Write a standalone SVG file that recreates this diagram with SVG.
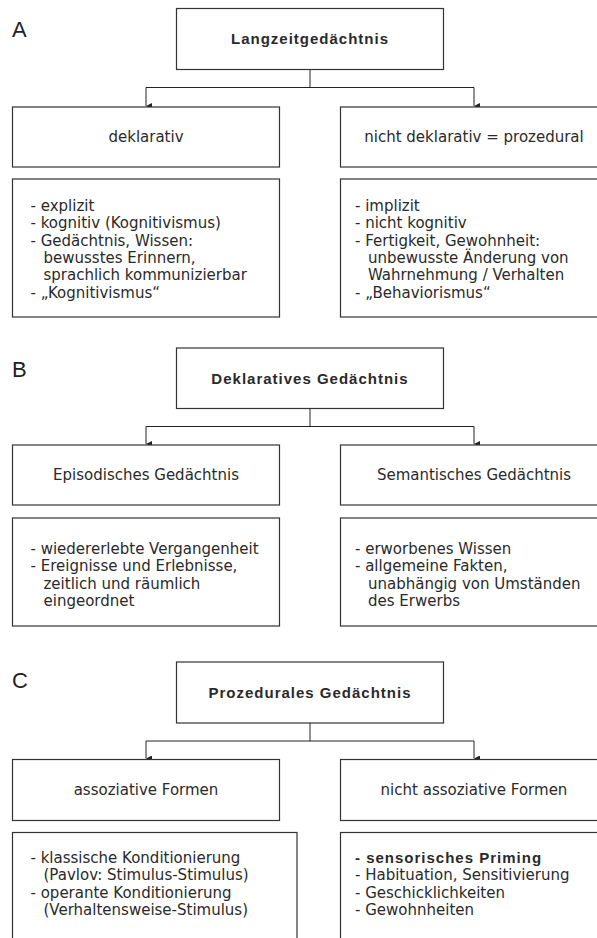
<svg xmlns="http://www.w3.org/2000/svg" width="597" height="938" viewBox="0 0 597 938">
<defs>
<marker id="arr" viewBox="0 0 6 6" refX="3" refY="6" markerWidth="6" markerHeight="6" markerUnits="userSpaceOnUse" orient="auto-start-reverse">
<path d="M0,0 L6,0 L3,6 Z" fill="#222"/>
</marker>
<style>
.box{fill:#fff;stroke:#333;stroke-width:1.2}
.conn{fill:none;stroke:#222;stroke-width:1}
.lbl{font-family:"Liberation Sans",Arial,sans-serif;font-size:22px;fill:#222}
.hd{font-family:"Liberation Sans",Arial,sans-serif;font-size:15px;font-weight:bold;letter-spacing:1px;fill:#2a2a2a;text-anchor:middle}
.sub{font-family:"DejaVu Sans",Verdana,sans-serif;font-size:15px;fill:#2a2a2a;text-anchor:middle}
.tx{font-family:"DejaVu Sans",Verdana,sans-serif;font-size:15px;fill:#2a2a2a}
.bd{font-family:"Liberation Sans",Arial,sans-serif;font-size:15px;font-weight:bold;letter-spacing:1px;fill:#2a2a2a}
</style>
</defs>

<g id="connectors">
<path class="conn" d="M310,69.5 V87.5 M146,87.5 H474"/>
<path class="conn" d="M146,87.5 V106" marker-end="url(#arr)"/>
<path class="conn" d="M474,87.5 V106" marker-end="url(#arr)"/>
<path class="conn" d="M310,408.5 V426.5 M146,426.5 H474"/>
<path class="conn" d="M146,426.5 V444" marker-end="url(#arr)"/>
<path class="conn" d="M474,426.5 V444" marker-end="url(#arr)"/>
<path class="conn" d="M310,723 V741 M146,741 H474"/>
<path class="conn" d="M146,741 V758.5" marker-end="url(#arr)"/>
<path class="conn" d="M474,741 V758.5" marker-end="url(#arr)"/>
</g>

<text class="lbl" x="12" y="37">A</text>
<text class="lbl" x="12" y="377">B</text>
<text class="lbl" x="12" y="688">C</text>

<g id="langzeit">
<rect class="box" x="176.5" y="8.5" width="267" height="61"/>
<text class="hd" x="310" y="44">Langzeitgedächtnis</text>
</g>
<g id="deklarativ">
<rect class="box" x="12.5" y="107" width="267" height="60"/>
<text class="sub" x="146" y="142">deklarativ</text>
</g>
<g id="nichtdeklarativ">
<rect class="box" x="340.5" y="107" width="267" height="60"/>
<text class="sub" x="474" y="142">nicht deklarativ = prozedural</text>
</g>
<g id="deklarativ-desc">
<rect class="box" x="12.5" y="179" width="267" height="138"/>
<text class="tx" x="30.5" y="211">- explizit</text>
<text class="tx" x="30.5" y="228.3">- kognitiv (Kognitivismus)</text>
<text class="tx" x="30.5" y="245.6">- Gedächtnis, Wissen:</text>
<text class="tx" x="43.5" y="262.9">bewusstes Erinnern,</text>
<text class="tx" x="43.5" y="280.2">sprachlich kommunizierbar</text>
<text class="tx" x="30.5" y="297.5">- „Kognitivismus“</text>
</g>
<g id="nichtdeklarativ-desc">
<rect class="box" x="340.5" y="179" width="267" height="138"/>
<text class="tx" x="355" y="211">- implizit</text>
<text class="tx" x="355" y="228.3">- nicht kognitiv</text>
<text class="tx" x="355" y="245.6">- Fertigkeit, Gewohnheit:</text>
<text class="tx" x="368" y="262.9">unbewusste Änderung von</text>
<text class="tx" x="368" y="280.2">Wahrnehmung / Verhalten</text>
<text class="tx" x="355" y="297.5">- „Behaviorismus“</text>
</g>

<g id="deklaratives">
<rect class="box" x="176.5" y="348" width="267" height="60.5"/>
<text class="hd" x="310" y="384">Deklaratives Gedächtnis</text>
</g>
<g id="episodisch">
<rect class="box" x="12.5" y="445" width="267" height="60"/>
<text class="sub" x="146" y="480">Episodisches Gedächtnis</text>
</g>
<g id="semantisch">
<rect class="box" x="340.5" y="445" width="267" height="60"/>
<text class="sub" x="474" y="480">Semantisches Gedächtnis</text>
</g>
<g id="episodisch-desc">
<rect class="box" x="12.5" y="518" width="267" height="108"/>
<text class="tx" x="30.5" y="554">- wiedererlebte Vergangenheit</text>
<text class="tx" x="30.5" y="571.3">- Ereignisse und Erlebnisse,</text>
<text class="tx" x="43.5" y="588.6">zeitlich und räumlich</text>
<text class="tx" x="43.5" y="605.9">eingeordnet</text>
</g>
<g id="semantisch-desc">
<rect class="box" x="340.5" y="518" width="267" height="108"/>
<text class="tx" x="355" y="554">- erworbenes Wissen</text>
<text class="tx" x="355" y="571.3">- allgemeine Fakten,</text>
<text class="tx" x="368" y="588.6">unabhängig von Umständen</text>
<text class="tx" x="368" y="605.9">des Erwerbs</text>
</g>

<g id="prozedurales">
<rect class="box" x="176.5" y="662" width="267" height="61"/>
<text class="hd" x="310" y="698">Prozedurales Gedächtnis</text>
</g>
<g id="assoziativ">
<rect class="box" x="12.5" y="759.5" width="267" height="61"/>
<text class="sub" x="146" y="795">assoziative Formen</text>
</g>
<g id="nichtassoziativ">
<rect class="box" x="340.5" y="759.5" width="267" height="61"/>
<text class="sub" x="474" y="795">nicht assoziative Formen</text>
</g>
<g id="assoziativ-desc">
<rect class="box" x="12.5" y="832.5" width="284.5" height="120"/>
<text class="tx" x="30.5" y="863">- klassische Konditionierung</text>
<text class="tx" x="43.5" y="880.3">(Pavlov: Stimulus-Stimulus)</text>
<text class="tx" x="30.5" y="897.6">- operante Konditionierung</text>
<text class="tx" x="43.5" y="914.9">(Verhaltensweise-Stimulus)</text>
</g>
<g id="nichtassoziativ-desc">
<rect class="box" x="340.5" y="832.5" width="267" height="120"/>
<text class="bd" x="355" y="863">- sensorisches Priming</text>
<text class="tx" x="355" y="880.3">- Habituation, Sensitivierung</text>
<text class="tx" x="355" y="897.6">- Geschicklichkeiten</text>
<text class="tx" x="355" y="914.9">- Gewohnheiten</text>
</g>
</svg>
